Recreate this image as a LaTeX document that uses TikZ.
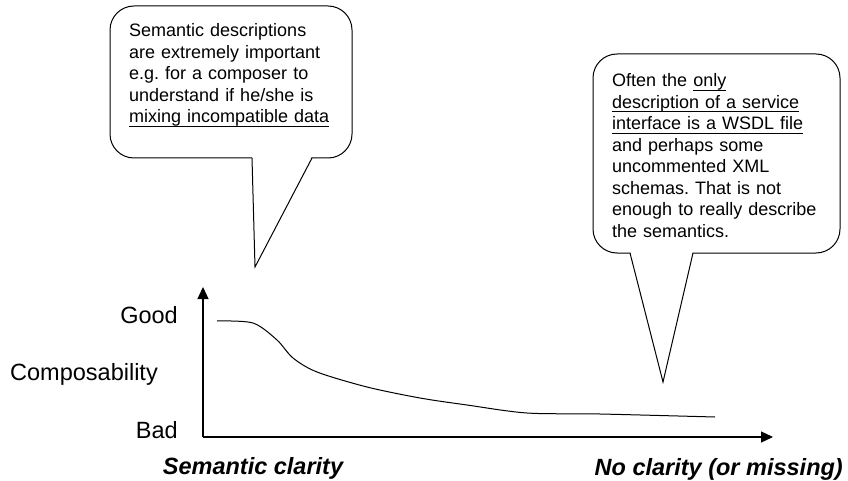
\documentclass[tikz,border=0pt]{standalone}
\usepackage{fontspec}
\setmainfont{Liberation Sans}
\usetikzlibrary{arrows.meta}
\frenchspacing
% underline at a fixed depth below the baseline
\newsavebox\ulinebox
\newcommand\lineunder[1]{\leavevmode\sbox\ulinebox{#1}\rlap{\rule[-3.6pt]{\wd\ulinebox}{0.9pt}}\usebox\ulinebox}
\begin{document}
\begin{tikzpicture}[x=1pt,y=-1pt,
  bubble/.style={draw=black,line width=1pt,rounded corners=24pt,fill=white},
  bubbletext/.style={anchor=base west,inner sep=0pt,text width=#1,align=left,
    font=\fontsize{18}{21.5}\selectfont},
  axis/.style={line width=1.2pt,-{Triangle[length=12pt,width=11pt]}},
  axislabel/.style={inner sep=0pt,font=\fontsize{23.5}{26}\selectfont},
  endlabel/.style={inner sep=0pt,font=\fontsize{23.5}{26}\selectfont\bfseries\itshape}]
\useasboundingbox (0,0) rectangle (848,481);

% left callout
\draw[bubble] (110,6) rectangle (352,158);
\fill[white] (252,156) -- (255,267) -- (312,156) -- cycle;
\draw[line width=1pt,line join=miter] (252,158) -- (255,267) -- (312,158);
\node[bubbletext=230pt] (leftnote) at (129,37)
  {Semantic descriptions\\are extremely important\\e.g. for a composer to\\understand if he/she is\\\lineunder{mixing incompatible data}};

% right callout
\draw[bubble] (593,54) rectangle (840,253);
\fill[white] (630,251) -- (663,382) -- (693,251) -- cycle;
\draw[line width=1pt,line join=miter] (630,253) -- (663,382) -- (693,253);
\node[bubbletext=230pt] (rightnote) at (612,87)
  {Often the \lineunder{only}\\\lineunder{description of a service}\\\lineunder{interface is a WSDL file}\\and perhaps some\\uncommented XML\\schemas. That is not\\enough to really describe\\the semantics.};

% axes
\coordinate (origin) at (203,437);
\coordinate (ytip) at (203,287);
\coordinate (xtip) at (773,437);
\draw[axis] (origin) -- (ytip);
\draw[axis] (origin) -- (xtip);

% axis labels
\node[axislabel,anchor=base east] (good) at (178,323) {Good};
\node[axislabel,anchor=base west] (comp) at (10,380) {Composability};
\node[axislabel,anchor=base east] (bad) at (178,438) {Bad};
\node[endlabel,anchor=base] (semclar) at (253,474) {Semantic clarity};
\node[endlabel,anchor=base east] (noclar) at (843,475) {No clarity (or missing)};

% composability curve
\draw[line width=1pt] plot[smooth,tension=0.5] coordinates {
  (217,321) (253,323) (277,340) (293,358) (317,372) (367,387)
  (420,398) (467,405) (527,413) (600,414) (715,417)};
\end{tikzpicture}
\end{document}
